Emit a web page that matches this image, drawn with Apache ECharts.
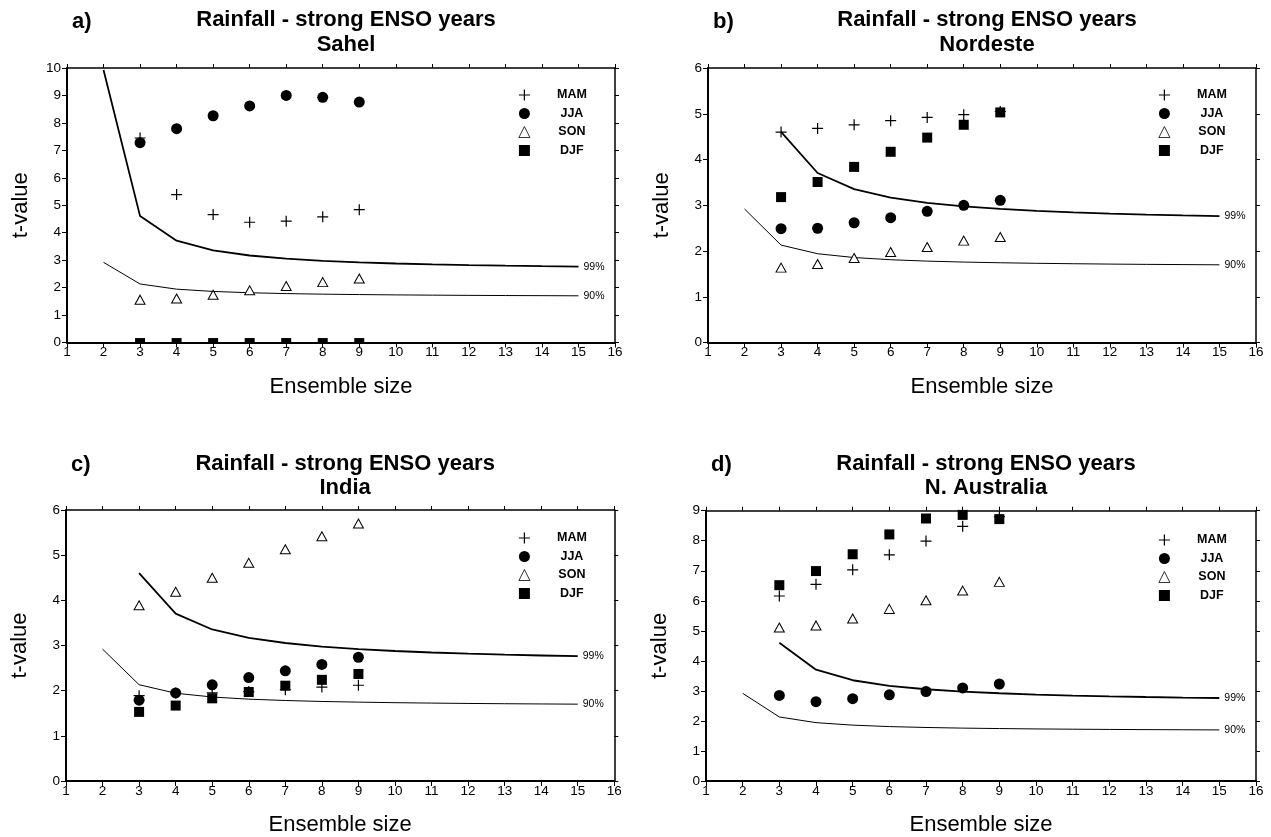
<!DOCTYPE html>
<html>
<head>
<meta charset="utf-8">
<title>Rainfall - strong ENSO years</title>
<script src="https://cdn.jsdelivr.net/npm/echarts@6/dist/echarts.min.js"></script>
<style>
  html, body { margin: 0; padding: 0; background: #fff; }
  #chart { width: 1271px; height: 837px; }
</style>
</head>
<body>
<div id="chart"></div>
<script>
// Ensemble sizes for the seasonal t-values and for the significance curves
const ensembleSizes = [3, 4, 5, 6, 7, 8, 9];
const thresholdSizes = [2, 3, 4, 5, 6, 7, 8, 9, 10, 11, 12, 13, 14, 15];
const xTicks = [1, 16];

// Critical t-values (99% and 90% levels)
const t99 = [9.925, 4.604, 3.707, 3.355, 3.169, 3.055, 2.977, 2.921, 2.878, 2.845, 2.819, 2.797, 2.779, 2.763];
const t90 = [2.920, 2.132, 1.943, 1.860, 1.812, 1.782, 1.761, 1.746, 1.734, 1.725, 1.717, 1.711, 1.706, 1.701];

const seasons = ['MAM', 'JJA', 'SON', 'DJF'];

// Sahel
const sahelMAM = [7.45, 5.39, 4.66, 4.38, 4.42, 4.58, 4.84];
const sahelJJA = [7.28, 7.79, 8.26, 8.62, 9.00, 8.93, 8.76];
const sahelSON = [1.56, 1.60, 1.74, 1.90, 2.06, 2.20, 2.33];
const sahelDJF = [0, 0, 0, 0, 0, 0, 0];

// Nordeste
const nordesteMAM = [4.60, 4.68, 4.76, 4.85, 4.92, 4.98, 5.05];
const nordesteJJA = [2.49, 2.50, 2.62, 2.73, 2.87, 3.00, 3.11];
const nordesteSON = [1.64, 1.72, 1.85, 1.98, 2.09, 2.23, 2.31];
const nordesteDJF = [3.18, 3.51, 3.84, 4.17, 4.48, 4.76, 5.03];

// India
const indiaMAM = [1.89, 1.95, 1.95, 1.98, 2.02, 2.08, 2.12];
const indiaJJA = [1.79, 1.95, 2.13, 2.29, 2.44, 2.58, 2.74];
const indiaSON = [3.89, 4.19, 4.50, 4.83, 5.13, 5.42, 5.70];
const indiaDJF = [1.53, 1.67, 1.83, 1.97, 2.11, 2.24, 2.37];

// N. Australia
const ausMAM = [6.16, 6.55, 7.03, 7.53, 7.99, 8.48, 8.80];
const ausJJA = [2.85, 2.64, 2.74, 2.87, 2.98, 3.10, 3.23];
const ausSON = [5.11, 5.18, 5.41, 5.73, 6.02, 6.34, 6.63];
const ausDJF = [6.52, 6.99, 7.55, 8.21, 8.74, 8.86, 8.72];

const panels = [
  { tag: 'a)', region: 'Sahel', yMax: 10, values: [sahelMAM, sahelJJA, sahelSON, sahelDJF], start99: 0 },
  { tag: 'b)', region: 'Nordeste', yMax: 6, values: [nordesteMAM, nordesteJJA, nordesteSON, nordesteDJF], start99: 1 },
  { tag: 'c)', region: 'India', yMax: 6, values: [indiaMAM, indiaJJA, indiaSON, indiaDJF], start99: 1 },
  { tag: 'd)', region: 'N. Australia', yMax: 9, values: [ausMAM, ausJJA, ausSON, ausDJF], start99: 1 }
];

// Page layout of the four plots
const layout = [
  { left: 67, top: 68, width: 548, height: 274.5, tagTop: 5.5, titleTop: 3, legendLeft: 513.5, legendTop: 83.5 },
  { left: 708, top: 68, width: 548, height: 274.7, tagTop: 5.5, titleTop: 3, legendLeft: 1153.5, legendTop: 83.5 },
  { left: 66, top: 510, width: 548.3, height: 275.7, tagTop: 448.5, titleTop: 446.5, legendLeft: 513.5, legendTop: 526.5 },
  { left: 706, top: 510.7, width: 550, height: 276, tagTop: 448.5, titleTop: 446.5, legendLeft: 1153.5, legendTop: 528.5 }
];

const FONT = '"Liberation Sans", Arial, Helvetica, sans-serif';
const PLUS = 'path://M4.45,0H5.55V4.45H10V5.55H5.55V10H4.45V5.55H0V4.45H4.45Z';

const seasonStyle = {
  MAM: { symbol: PLUS, symbolSize: 11, itemStyle: { color: '#000', opacity: 1 } },
  JJA: { symbol: 'circle', symbolSize: 11, itemStyle: { color: '#000', opacity: 1 } },
  SON: { symbol: 'triangle', symbolSize: [10, 9], itemStyle: { color: '#fff', borderColor: '#000', borderWidth: 1, opacity: 1 } },
  DJF: { symbol: 'rect', symbolSize: 10, itemStyle: { color: '#000', opacity: 1 } }
};

const option = {
  animation: false,
  backgroundColor: '#fff',
  title: [], grid: [], xAxis: [], yAxis: [], legend: [], series: []
};

panels.forEach((p, i) => {
  const L = layout[i];
  const cx = L.left + L.width / 2;

  option.title.push({
    text: p.tag, left: L.left, top: L.tagTop,
    textStyle: { fontFamily: FONT, fontSize: 22, fontWeight: 'bold', color: '#000' }
  });
  option.title.push({
    text: 'Rainfall - strong ENSO years\n' + p.region,
    left: cx, top: L.titleTop, textAlign: 'center',
    textStyle: { fontFamily: FONT, fontSize: 22, fontWeight: 'bold', color: '#000', lineHeight: 24.5 }
  });

  option.grid.push({ left: L.left, top: L.top, width: L.width, height: L.height, containLabel: false });

  const axisLine = w => ({ show: true, onZero: false, lineStyle: { color: '#000', width: w } });
  const tick = { show: true, inside: false, length: 5, lineStyle: { color: '#000', width: 1 } };

  // bottom and top x axes
  option.xAxis.push({
    type: 'value', gridIndex: i, position: 'bottom', min: xTicks[0], max: xTicks[1], interval: 1,
    axisLine: axisLine(2), axisTick: tick, splitLine: { show: false },
    axisLabel: { fontFamily: FONT, fontSize: 13.5, color: '#000', margin: 3 },
    name: 'Ensemble size', nameLocation: 'middle', nameGap: 33,
    nameTextStyle: { fontFamily: FONT, fontSize: 22, color: '#000' }
  });
  option.xAxis.push({
    type: 'value', gridIndex: i, position: 'top', min: xTicks[0], max: xTicks[1], interval: 1,
    axisLine: axisLine(1.5), axisTick: Object.assign({}, tick, { length: 4 }),
    axisLabel: { show: false }, splitLine: { show: false }
  });

  // left and right y axes
  option.yAxis.push({
    type: 'value', gridIndex: i, position: 'left', min: 0, max: p.yMax, interval: 1,
    axisLine: axisLine(2), axisTick: tick, splitLine: { show: false },
    axisLabel: { fontFamily: FONT, fontSize: 13.5, color: '#000', margin: 6 },
    name: 't-value', nameLocation: 'middle', nameGap: 35, nameRotate: 90,
    nameTextStyle: { fontFamily: FONT, fontSize: 22, color: '#000' }
  });
  option.yAxis.push({
    type: 'value', gridIndex: i, position: 'right', min: 0, max: p.yMax, interval: 1,
    axisLine: axisLine(1.5), axisTick: Object.assign({}, tick, { length: 4 }),
    axisLabel: { show: false }, splitLine: { show: false }
  });

  const xi = i * 2, yi = i * 2;

  // significance curves, labelled at their right end
  const curve = (sizes, vals, label, width) => ({
    type: 'line', xAxisIndex: xi, yAxisIndex: yi, symbol: 'none', clip: true, z: 1,
    lineStyle: { color: '#000', width: width },
    endLabel: { show: true, formatter: label, distance: 5, fontFamily: FONT, fontSize: 10.5, color: '#000' },
    data: sizes.map((s, k) => [s, vals[k]])
  });
  option.series.push(curve(thresholdSizes.slice(p.start99), t99.slice(p.start99), '99%', 1.8));
  option.series.push(curve(thresholdSizes, t90, '90%', 1));

  // seasonal t-values
  seasons.forEach((s, k) => {
    const st = seasonStyle[s];
    option.series.push({
      name: s, type: 'scatter', xAxisIndex: xi, yAxisIndex: yi, z: 3 + k,
      symbol: st.symbol, symbolSize: st.symbolSize, itemStyle: st.itemStyle,
      emphasis: { disabled: true },
      data: ensembleSizes.map((n, j) => {
        const v = p.values[k][j];
        // points lying on the bottom axis are cut by the frame
        if (v === 0 && s === 'DJF') {
          return { value: [n, v], symbolSize: [10, 4.5], symbolOffset: [0, -2.2] };
        }
        return [n, v];
      })
    });
  });

  option.legend.push({
    orient: 'vertical', left: L.legendLeft, top: L.legendTop,
    itemWidth: 11, itemHeight: 11, itemGap: 5.5, selectedMode: false,
    data: seasons.map(s => s === 'SON'
      ? { name: s, itemStyle: { color: '#fff', borderColor: '#000', borderWidth: 0.8 } }
      : { name: s }),
    formatter: n => '{s|}{t|' + n + '}',
    textStyle: {
      rich: {
        s: { width: 17 },
        t: { width: 40, align: 'center', fontFamily: FONT, fontSize: 12.5, fontWeight: 'bold', color: '#000' }
      }
    }
  });
});

const chart = echarts.init(document.getElementById('chart'), null, { renderer: 'canvas' });
chart.setOption(option);
</script>
</body>
</html>
